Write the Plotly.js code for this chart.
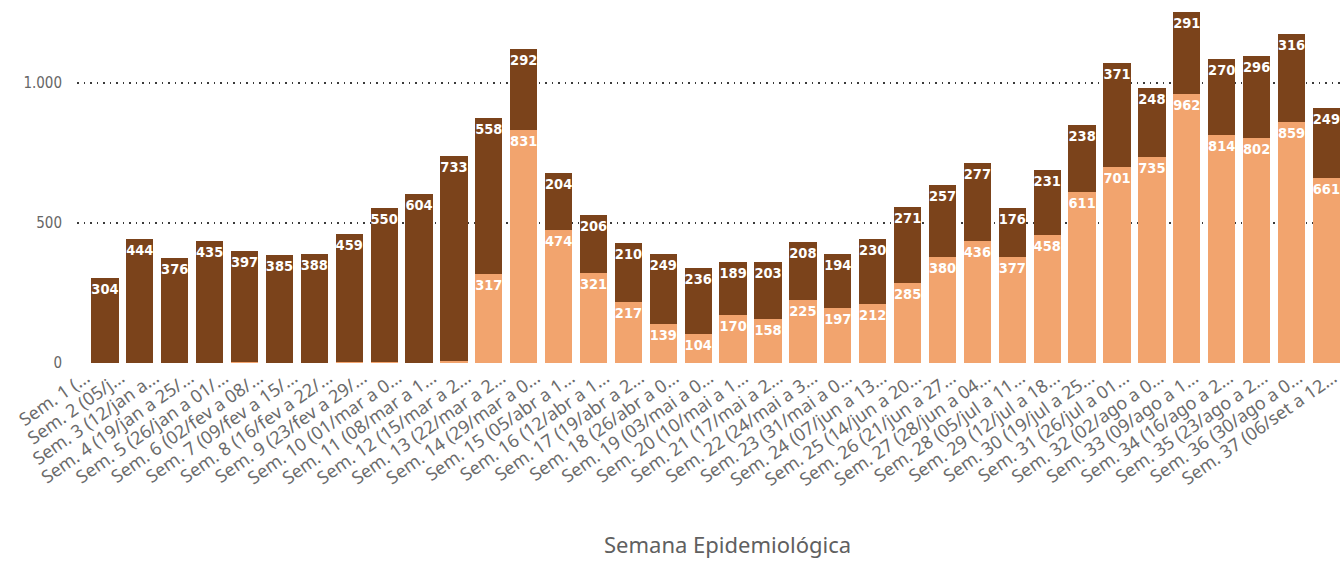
<!DOCTYPE html>
<html>
<head>
<meta charset="utf-8">
<script src="https://cdn.plot.ly/plotly-3.0.1.min.js"></script>
<style>
  html, body { margin: 0; padding: 0; background: #ffffff; }
  #chart { width: 1340px; height: 562px; }
</style>
</head>
<body>
<div id="chart"></div>
<script>
// Week labels (as truncated in the original)
const weekLabels = [
  "Sem. 1 (…", "Sem. 2 (05/j…", "Sem. 3 (12/jan a…", "Sem. 4 (19/jan a 25/…",
  "Sem. 5 (26/jan a 01/…", "Sem. 6 (02/fev a 08/…", "Sem. 7 (09/fev a 15/…",
  "Sem. 8 (16/fev a 22/…", "Sem. 9 (23/fev a 29/…", "Sem. 10 (01/mar a 0…",
  "Sem. 11 (08/mar a 1…", "Sem. 12 (15/mar a 2…", "Sem. 13 (22/mar a 2…",
  "Sem. 14 (29/mar a 0…", "Sem. 15 (05/abr a 1…", "Sem. 16 (12/abr a 1…",
  "Sem. 17 (19/abr a 2…", "Sem. 18 (26/abr a 0…", "Sem. 19 (03/mai a 0…",
  "Sem. 20 (10/mai a 1…", "Sem. 21 (17/mai a 2…", "Sem. 22 (24/mai a 3…",
  "Sem. 23 (31/mai a 0…", "Sem. 24 (07/jun a 13…", "Sem. 25 (14/jun a 20…",
  "Sem. 26 (21/jun a 27…", "Sem. 27 (28/jun a 04…", "Sem. 28 (05/jul a 11…",
  "Sem. 29 (12/jul a 18…", "Sem. 30 (19/jul a 25…", "Sem. 31 (26/jul a 01…",
  "Sem. 32 (02/ago a 0…", "Sem. 33 (09/ago a 1…", "Sem. 34 (16/ago a 2…",
  "Sem. 35 (23/ago a 2…", "Sem. 36 (30/ago a 0…", "Sem. 37 (06/set a 12…"
];

// Lower (light orange) segment
const lightValues = [
  0, 0, 0, 0, 4, 1, 0, 2, 4, 1, 6,
  317, 831, 474, 321, 217, 139, 104, 170, 158, 225, 197, 212,
  285, 380, 436, 377, 458, 611, 701, 735, 962, 814, 802, 859, 661,
  null
];

// Upper (dark brown) segment
const darkValues = [
  304, 444, 376, 435, 397, 385, 388, 459, 550, 604, 733,
  558, 292, 204, 206, 210, 249, 236, 189, 203, 208, 194, 230,
  271, 257, 277, 176, 231, 238, 371, 248, 291, 270, 296, 316, 249,
  null
];

const yTicks = [0, 500, 1000];
const xTitle = "Semana Epidemiológica";

const labelText = arr => arr.map(v => (v != null && v >= 60) ? String(v) : "");
const idx = weekLabels.map((_, i) => i);

const barFont = { family: '"DejaVu Sans Condensed", "DejaVu Sans", sans-serif', size: 14.5, color: '#ffffff', weight: 'bold' };

const traces = [
  {
    type: 'bar', name: 'Segmento inferior',
    x: weekLabels, y: lightValues,
    marker: { color: '#F2A46E' },
    text: labelText(lightValues), textposition: 'inside', insidetextanchor: 'end',
    constraintext: 'none',
    textangle: 0, textfont: barFont, hoverinfo: 'skip', cliponaxis: false
  },
  {
    type: 'bar', name: 'Segmento superior',
    x: weekLabels, y: darkValues,
    marker: { color: '#7B431B' },
    text: labelText(darkValues), textposition: 'inside', insidetextanchor: 'end',
    constraintext: 'none',
    textangle: 0, textfont: barFont, hoverinfo: 'skip', cliponaxis: false
  },
  { type: 'scatter', x: [], y: [], xaxis: 'x2', showlegend: false, hoverinfo: 'skip' }
];

const layout = {
  width: 1340, height: 562,
  margin: { l: 77, r: 0, t: 5, b: 199, pad: 0 },
  paper_bgcolor: '#ffffff', plot_bgcolor: '#ffffff',
  barmode: 'stack', bargap: 0.22,
  showlegend: false,
  separators: ',.',
  font: { family: '"Noto Sans", "Open Sans", sans-serif', color: '#666666' },
  xaxis: {
    type: 'category', range: [-0.80, 35.39], showticklabels: false,
    showgrid: false, zeroline: false, showline: false, ticks: '', fixedrange: true
  },
  xaxis2: {
    overlaying: 'x', anchor: 'y', side: 'bottom', type: 'linear',
    range: [-0.26, 36.20],
    tickmode: 'array', tickvals: idx, ticktext: weekLabels,
    tickangle: -35, showgrid: false, zeroline: false, showline: false, ticks: '',
    ticklabeloverflow: 'allow',
    tickfont: { family: '"Noto Sans", "Open Sans", sans-serif', size: 18, color: '#6b6b6b' },
    automargin: false
  },
  yaxis: {
    range: [0, 1278.6], tickmode: 'array', tickvals: yTicks,
    tickformat: ',d',
    showgrid: true, gridcolor: '#3a3a3a', gridwidth: 1.3, griddash: '1.5px,5px',
    zeroline: false, showline: false, ticks: '',
    ticklabelstandoff: 14,
    tickfont: { family: '"DejaVu Sans Condensed", "DejaVu Sans", sans-serif', size: 15, color: '#666666' },
    automargin: false
  },
  annotations: [{
    text: xTitle, xref: 'paper', yref: 'paper', x: 0.515, y: -0.505,
    xanchor: 'center', yanchor: 'middle', showarrow: false,
    font: { family: '"Noto Sans", "Open Sans", sans-serif', size: 22, color: '#606060' }
  }]
};

Plotly.newPlot('chart', traces, layout, { displayModeBar: false, staticPlot: true });
</script>
</body>
</html>
